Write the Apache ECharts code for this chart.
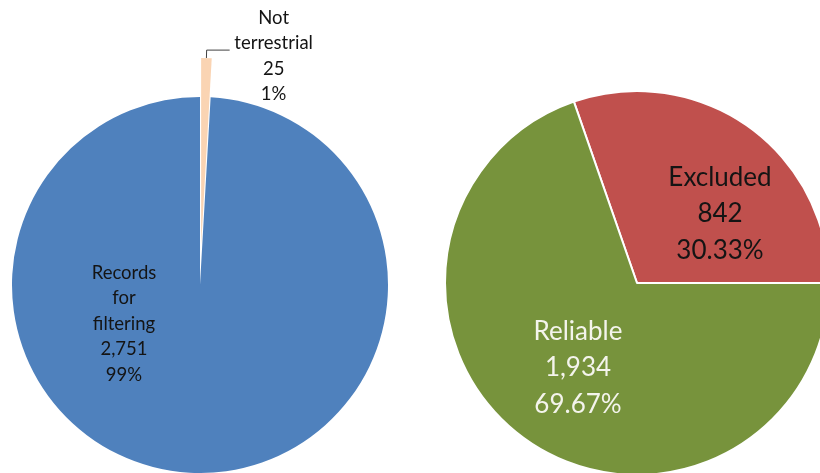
<!DOCTYPE html>
<html>
<head>
<meta charset="utf-8">
<script src="https://cdn.jsdelivr.net/npm/echarts@6/dist/echarts.min.js"></script>
<style>
  html, body { margin: 0; padding: 0; background: #ffffff; }
  #chart { width: 820px; height: 473px; }
</style>
</head>
<body>
<div id="chart"></div>
<script>
// Records screened for terrestrial relevance
const recordNames = ['Not\nterrestrial', 'Records\nfor\nfiltering'];
const recordValues = [25, 2751];
const recordPercents = ['1%', '99%'];

// Outcome of the reliability filter
const filterNames = ['Excluded', 'Reliable'];
const filterValues = [842, 1934];
const filterPercents = ['30.33%', '69.67%'];

const fmt = n => n.toLocaleString('en-US');

// each line of a multi-line label as a centred rich-text token
const centredLines = (lines, style) => lines.map(l => '{' + style + '|' + l + '}').join('\n');

const chart = echarts.init(document.getElementById('chart'), null, { renderer: 'canvas' });

const filterTotal = filterValues.reduce((a, b) => a + b, 0);
// rotate so the excluded slice ends at three o'clock
const filterStart = 360 * filterValues[0] / filterTotal;

// label anchor points for the inside labels
const recordsLabelPos = [124, 324];
const rightLabelPos = [[720, 214], [578, 368]];

const leftFont = { fontFamily: 'Lato', fontSize: 18.5, lineHeight: 25.5, color: '#141414' };

chart.setOption({
  animation: false,
  backgroundColor: '#ffffff',
  series: [
    {
      type: 'pie',
      center: [200, 285],
      radius: [0, 188],
      startAngle: 90,
      clockwise: true,
      selectedMode: 'single',
      selectedOffset: 39,
      avoidLabelOverlap: false,
      emphasis: { disabled: true },
      itemStyle: { borderWidth: 0 },
      label: Object.assign({}, leftFont, {
        formatter: p => p.name + '\n' + fmt(p.value) + '\n' + recordPercents[p.dataIndex]
      }),
      labelLayout: p => (p.dataIndex === 1 ? {
        x: recordsLabelPos[0],
        y: recordsLabelPos[1],
        align: 'center',
        verticalAlign: 'middle'
      } : {}),
      data: [
        {
          name: recordNames[0], value: recordValues[0], selected: true,
          itemStyle: { color: '#FAD4B3' },
          label: {
            position: 'outside',
            distanceToLabelLine: 2,
            padding: [12, 0, 0, 0],
            formatter: p => centredLines(
              p.name.split('\n').concat([fmt(p.value), recordPercents[p.dataIndex]]), 'c'),
            rich: { c: Object.assign({ width: 84, align: 'center' }, leftFont) }
          },
          labelLine: { show: true, length: 8, length2: 23, lineStyle: { color: '#404040', width: 1 } }
        },
        {
          name: recordNames[1], value: recordValues[1],
          itemStyle: { color: '#4F81BD' },
          label: { position: 'inside', align: 'center' },
          labelLine: { show: false }
        }
      ]
    },
    {
      type: 'pie',
      center: [637, 283],
      radius: [0, 192],
      startAngle: filterStart,
      clockwise: true,
      avoidLabelOverlap: false,
      emphasis: { disabled: true },
      itemStyle: { borderColor: '#ffffff', borderWidth: 2 },
      label: {
        position: 'inside',
        fontFamily: 'Lato',
        fontSize: 26,
        lineHeight: 36.5,
        align: 'center',
        formatter: p => p.name + '\n' + fmt(p.value) + '\n' + filterPercents[p.dataIndex]
      },
      labelLine: { show: false },
      labelLayout: p => ({
        x: rightLabelPos[p.dataIndex][0],
        y: rightLabelPos[p.dataIndex][1],
        align: 'center',
        verticalAlign: 'middle'
      }),
      data: [
        { name: filterNames[0], value: filterValues[0], itemStyle: { color: '#C0504D' }, label: { color: '#141414' } },
        { name: filterNames[1], value: filterValues[1], itemStyle: { color: '#77933C' }, label: { color: '#F4F4EC' } }
      ]
    }
  ]
});
</script>
</body>
</html>
